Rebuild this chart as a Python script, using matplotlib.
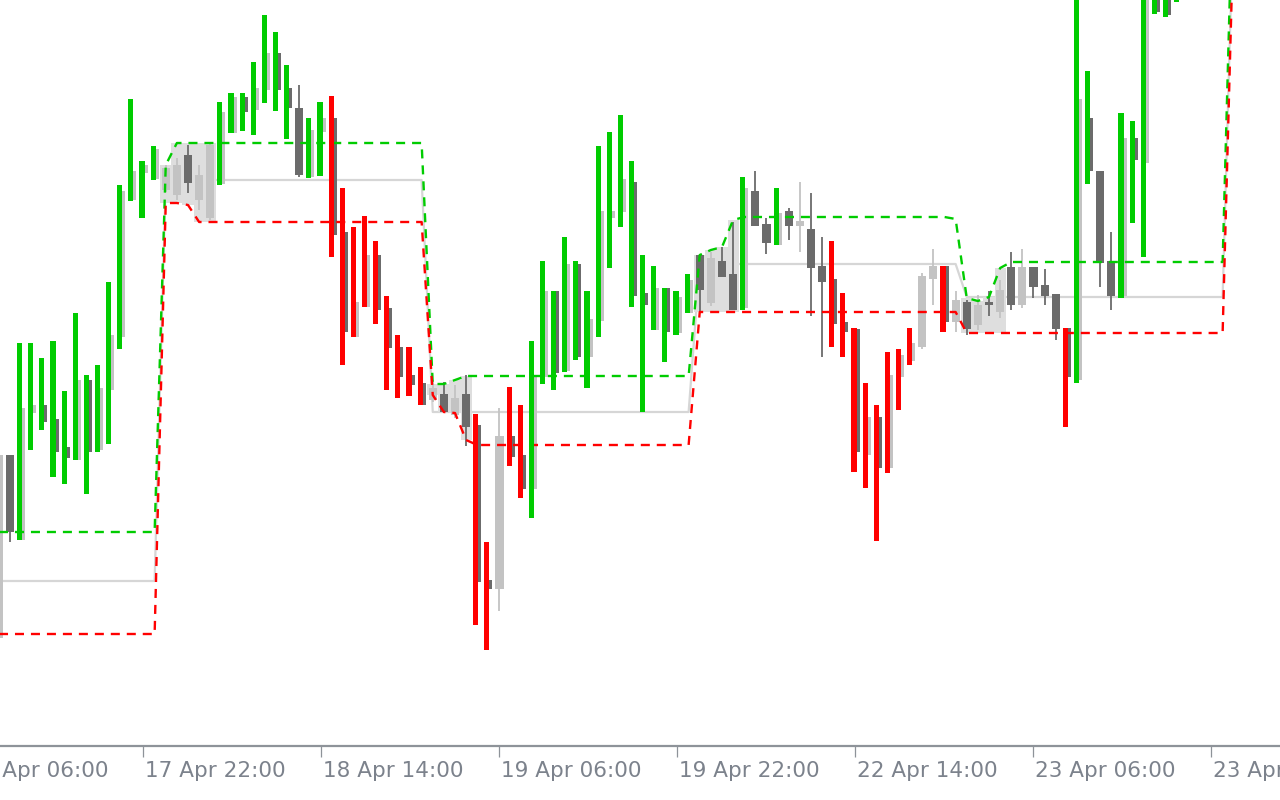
import numpy as np
import matplotlib
matplotlib.use("Agg")
import matplotlib.pyplot as plt
import matplotlib.transforms as mtransforms

plt.rcParams['lines.scale_dashes'] = False

# hourly bars, index -1 .. 110 (price in points)
high = [367, 345, 457, 457, 442, 459, 409, 487, 425, 435, 518, 615, 701, 639, 654,
        635, 642, 655, 635, 657,
        698, 707, 707, 738, 785, 768, 735, 715, 682, 698,
        704, 612, 573, 584, 559, 504, 465, 453, 433,
        420, 418, 415, 425, 386, 258, 392, 413, 395,
        459, 539, 509, 563, 539, 509, 654, 668, 685, 639, 545, 534, 512, 509, 526,
        545, 548, 553, 578, 623, 629, 582, 612, 592, 618, 607, 563,
        559, 507, 472, 417, 395, 448, 451, 472,
        527, 551, 534, 509, 500, 505, 509, 520, 548, 551, 533, 531, 506,
        472, 840, 729, 629, 568, 687, 679, 880, 890, 880, 860, 920, 950, 960, 980, 1000]
low = [118, 258, 260, 350, 370, 323, 316, 340, 306, 348, 356, 451, 599, 582, 620,
       608, 600, 607, 590, 580,
       615, 667, 669, 665, 697, 689, 661, 623, 622, 624,
       543, 435, 463, 493, 476, 410, 402, 404, 395,
       398, 387, 382, 354, 175, 150, 189, 334, 302,
       282, 416, 410, 428, 440, 412, 463, 532, 573, 493, 388, 470, 438, 465, 487,
       487, 494, 523, 490, 490, 574, 546, 555, 560, 548, 484, 443,
       453, 443, 328, 312, 259, 327, 390, 435,
       451, 495, 468, 468, 465, 470, 484, 482, 490, 492, 502, 495, 460,
       373, 417, 616, 513, 490, 502, 577, 543, 786, 783, 798, 830, 860, 880, 890, 920]
open_ = [162, 345, 260, 387, 395, 381, 353, 340, 420, 350, 410, 463, 600, 627, 621,
         610, 605, 645, 600, 582,
         616, 667, 703, 690, 710, 747, 712, 692, 623, 668,
         682, 568, 463, 493, 545, 492, 453, 425, 417,
         400, 406, 385, 406, 375, 220, 211, 364, 345,
         311, 423, 509, 429, 536, 443, 479, 582, 588, 618, 507, 470, 512, 467, 487,
         545, 497, 539, 526, 492, 609, 576, 555, 589, 574, 571, 534,
         521, 478, 471, 345, 383, 332, 423, 439,
         453, 521, 534, 478, 498, 475, 498, 488, 533, 495, 533, 515, 506,
         472, 420, 682, 629, 539, 504, 662, 637, 840, 830, 810, 840, 900, 930, 900, 960]
close = [345, 268, 392, 395, 378, 348, 342, 420, 348, 412, 465, 609, 629, 635, 651,
         632, 635, 617, 625, 655,
         688, 703, 688, 712, 747, 710, 692, 625, 670, 682,
         565, 468, 498, 545, 490, 452, 423, 415, 395,
         412, 388, 402, 373, 218, 211, 364, 343, 311,
         425, 509, 427, 536, 443, 481, 589, 589, 621, 504, 495, 512, 468, 503, 520,
         510, 542, 523, 490, 612, 574, 557, 587, 574, 579, 532, 518,
         476, 468, 348, 383, 332, 425, 445, 457,
         524, 534, 478, 500, 471, 495, 495, 510, 495, 533, 513, 504, 471,
         423, 701, 629, 537, 504, 662, 640, 840, 788, 785, 840, 900, 930, 900, 960, 990]
# G = up trend bar, R = down trend bar, N = no trend
trend = ("GN" + "G" * 13 + "N" * 5 + "G" * 7 + "N" + "GG" + "R" * 9 + "N" * 4 + "RR" + "N" + "RR"
         + "G" * 15 + "N" * 4 + "G" + "NN" + "G" + "N" * 4 + "R" * 8 + "NN" + "R" + "N" * 10
         + "R" + "GG" + "NN" + "G" * 11)

# range box levels per bar
upper = ([268] * 15 + [635] + [657] * 23 + [416, 416, 420] + [424] * 21 + [545, 550, 553, 580]
         + [583] * 19 + [581] + [502, 499, 503, 532] + [538] * 20 + [950])
lower = ([166] * 15 + [597, 597, 595] + [578] * 21 + [405, 388, 387, 360] + [355] * 20
         + [488] * 24 + [467] * 24 + [880])
mid = [219] * 15 + [620] * 24 + [388] * 24 + [536] * 24 + [503] * 24 + [900]
shade_start = [14, 38, 62, 86]
shade_end = [18, 41, 65, 89]

tick_pos = [-4, 12, 28, 44, 60, 76, 92, 108]
tick_labels = ["17 Apr 06:00", "17 Apr 22:00", "18 Apr 14:00", "19 Apr 06:00",
               "19 Apr 22:00", "22 Apr 14:00", "23 Apr 06:00", "23 Apr 22:00"]

GREEN = "#00cc00"
RED = "#ff0000"
DARK = "#6b6b6b"
LIGHT = "#c3c3c3"

idx = np.arange(-1, len(high) - 1)
high = np.array(high); low = np.array(low)
open_ = np.array(open_); close = np.array(close)

fig = plt.figure(figsize=(12.8, 8), dpi=100)
ax = fig.add_axes([0, 54 / 800, 1, 746 / 800])
ax.set_xlim((0 - 10) / 11.125, (1280 - 10) / 11.125)
ax.set_ylim(54, 800)

ax.plot(idx, mid, color="#d6d6d6", lw=1.6, zorder=1)

# shaded transition zones
for s, e in zip(shade_start, shade_end):
    for i in range(s, e + 1):
        k = i + 1
        ax.bar(i, upper[k] - lower[k], bottom=lower[k], width=1.0,
               color="#dedede", linewidth=0, zorder=2)

# underlying candles
body_col = np.where(close >= open_, LIGHT, DARK)
ax.vlines(idx, low, high, colors=body_col, lw=1.3, zorder=3)
bot = np.minimum(open_, close)
hgt = np.maximum(np.abs(close - open_), 1.5)
ax.bar(idx, hgt, bottom=bot, width=0.72, color=body_col, linewidth=0, zorder=3)

ax.plot(idx, upper, color=GREEN, lw=1.7, linestyle=(0, (6.5, 5)), zorder=4)
ax.plot(idx, lower, color=RED, lw=1.7, linestyle=(0, (6.5, 5)), zorder=4)

# trend bars
for i, t in zip(idx, trend):
    if t == "N":
        continue
    k = i + 1
    ax.bar(i - 0.135, high[k] - low[k], bottom=low[k], width=0.45,
           color=GREEN if t == "G" else RED, linewidth=0, zorder=5)

for sp in ["top", "left", "right"]:
    ax.spines[sp].set_visible(False)
ax.spines["bottom"].set_color("#8e9399")
ax.spines["bottom"].set_linewidth(1.6)
ax.set_yticks([])
ax.set_xticks([t for t in tick_pos if t >= -0.9])
ax.set_xticklabels([])
ax.tick_params(axis="x", direction="out", length=8, width=0.9, color="#8e9399")

trans = mtransforms.blended_transform_factory(ax.transData, ax.transAxes)
trans = mtransforms.offset_copy(trans, fig=fig, x=2, y=-15, units="dots")
for t, lab in zip(tick_pos, tick_labels):
    ax.text(t, 0, lab, transform=trans, ha="left", va="top", fontsize=15.5,
            color="#7c828c", clip_on=False)

fig.savefig("out.png", dpi=100)
